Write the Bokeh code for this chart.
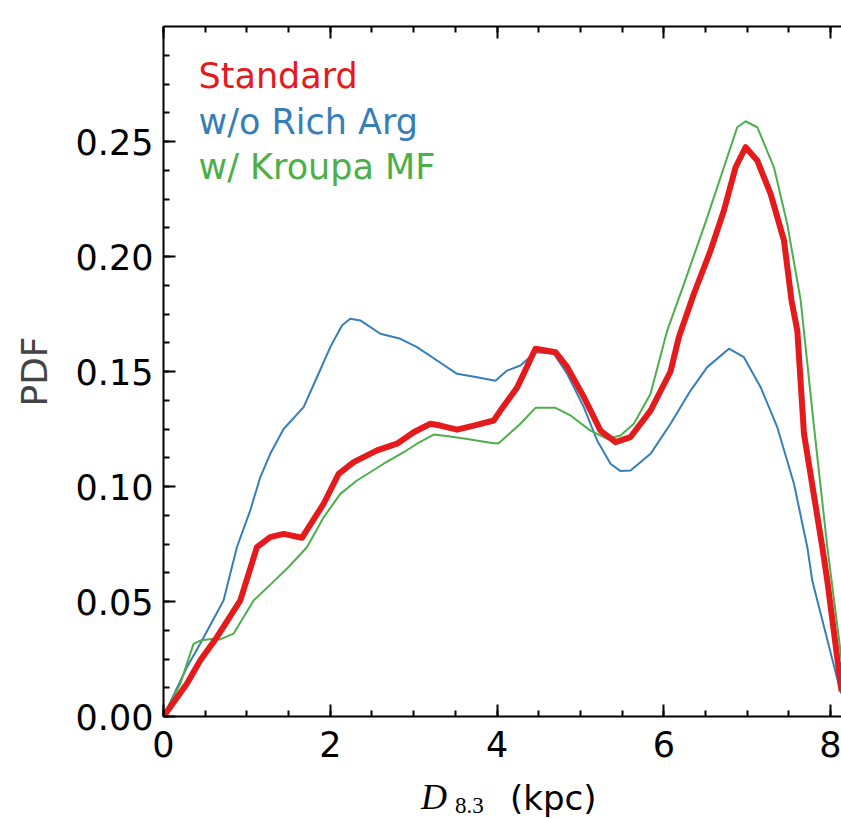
from bokeh.plotting import figure
from bokeh.models import Range1d, LinearAxis, SingleIntervalTicker, NumeralTickFormatter, Label, Div
from bokeh.layouts import column
from bokeh.embed import file_html
from bokeh.resources import INLINE

# ---- data ----
std_x = [0, 0.28, 0.44, 0.64, 0.92, 1.12, 1.28, 1.44, 1.66, 1.92, 2.10, 2.28, 2.56, 2.80, 3.00,
         3.20, 3.32, 3.52, 3.72, 3.96, 4.04, 4.24, 4.46, 4.70, 4.84, 5.04, 5.24, 5.42, 5.60, 5.84,
         6.08, 6.18, 6.36, 6.56, 6.72, 6.86, 6.98, 7.12, 7.28, 7.44, 7.53, 7.60, 7.68, 7.90, 7.96,
         8.12, 8.13]
std_y = [0, 0.0142, 0.0243, 0.0345, 0.0504, 0.0736, 0.078, 0.0794, 0.0777, 0.0925, 0.1055, 0.1106,
         0.1157, 0.1186, 0.1236, 0.1273, 0.1265, 0.1247, 0.1265, 0.1287, 0.133, 0.143, 0.1599, 0.1584,
         0.152, 0.1389, 0.1243, 0.1193, 0.1215, 0.133, 0.150, 0.165, 0.1838, 0.2026, 0.22, 0.2388,
         0.2475, 0.2417, 0.2272, 0.207, 0.181, 0.1678, 0.1229, 0.0736, 0.059, 0.014, 0.011]

rich_x = [0, 0.28, 0.44, 0.72, 0.88, 1.04, 1.16, 1.28, 1.44, 1.68, 1.84, 2.00, 2.14, 2.24, 2.36,
          2.60, 2.84, 3.04, 3.28, 3.52, 3.76, 3.98, 4.12, 4.28, 4.46, 4.68, 4.84, 5.04, 5.20, 5.36,
          5.48, 5.60, 5.84, 6.08, 6.32, 6.52, 6.78, 6.96, 7.16, 7.36, 7.56, 7.72, 7.78, 7.84, 8.12, 8.13]
rich_y = [0, 0.0214, 0.0316, 0.0504, 0.0736, 0.0896, 0.104, 0.1142, 0.125, 0.1345, 0.1475, 0.1606,
          0.170, 0.1729, 0.1722, 0.1664, 0.1642, 0.1606, 0.1548, 0.149, 0.1475, 0.146, 0.1504, 0.1526,
          0.1584, 0.1577, 0.149, 0.1345, 0.12, 0.1099, 0.1067, 0.107, 0.1142, 0.1273, 0.1417, 0.1519,
          0.1599, 0.1562, 0.1432, 0.1258, 0.1012, 0.0736, 0.059, 0.0504, 0.0106, 0.010]

krp_x = [0, 0.2, 0.36, 0.44, 0.60, 0.68, 0.84, 1.08, 1.3, 1.5, 1.72, 1.92, 2.12, 2.32, 2.64, 2.88,
         3.04, 3.24, 3.44, 3.64, 3.96, 4.02, 4.28, 4.46, 4.70, 4.88, 5.12, 5.32, 5.48, 5.64, 5.84,
         6.04, 6.24, 6.52, 6.72, 6.88, 6.98, 7.12, 7.32, 7.48, 7.64, 7.80, 7.96, 8.13]
krp_y = [0, 0.0142, 0.0316, 0.033, 0.0338, 0.0335, 0.036, 0.0504, 0.058, 0.065, 0.0736, 0.0866,
         0.0968, 0.1026, 0.1099, 0.1149, 0.1186, 0.1226, 0.1217, 0.1207, 0.1188, 0.1188, 0.1273,
         0.1342, 0.1342, 0.1309, 0.1243, 0.1207, 0.1222, 0.1273, 0.1403, 0.1678, 0.188, 0.217,
         0.2388, 0.2562, 0.2588, 0.2562, 0.2388, 0.214, 0.181, 0.126, 0.0736, 0.025]

series_names = ["Standard", "w/o Rich Arg", "w/ Kroupa MF"]
series_colors = ["#e41a1c", "#377eb8", "#4daf4a"]
x_ticks_interval = 2
y_ticks_interval = 0.05
x_top_ticks = [0, 2, 4, 6, 8]

SANS = "DejaVu Sans"

p = figure(width=841, height=765, output_backend="svg", toolbar_location=None,
           x_range=Range1d(0, 8.13), y_range=Range1d(0, 0.30),
           min_border_left=163, min_border_top=26, min_border_bottom=49, min_border_right=0,
           y_axis_label="PDF", margin=(0, 0, 0, 0))
p.outline_line_color = None
p.grid.visible = False
p.background_fill_color = "white"
p.border_fill_color = "white"

# curves (thin ones first, standard on top)
p.line(rich_x, rich_y, line_color=series_colors[1], line_width=2)
p.line(krp_x, krp_y, line_color=series_colors[2], line_width=2)
p.line(std_x, std_y, line_color=series_colors[0], line_width=6, line_join="round")

def style_axis(ax, ticker):
    ax.ticker = ticker
    ax.axis_line_width = 2
    ax.axis_line_color = "black"
    ax.major_tick_line_width = 2
    ax.minor_tick_line_width = 2
    ax.major_tick_in = 12
    ax.major_tick_out = 0
    ax.minor_tick_in = 6
    ax.minor_tick_out = 0
    ax.major_label_text_font = SANS
    ax.major_label_text_font_size = "35px"
    ax.major_label_text_color = "black"

xt = SingleIntervalTicker(interval=x_ticks_interval, num_minor_ticks=4)
yt = SingleIntervalTicker(interval=y_ticks_interval, num_minor_ticks=4)

style_axis(p.xaxis[0], xt)
p.xaxis[0].major_label_standoff = 14
style_axis(p.yaxis[0], yt)
p.yaxis[0].formatter = NumeralTickFormatter(format="0.00")
p.yaxis[0].major_label_standoff = 10
p.yaxis[0].axis_label_text_font = SANS
p.yaxis[0].axis_label_text_font_size = "36px"
p.yaxis[0].axis_label_text_font_style = "normal"
p.yaxis[0].axis_label_standoff = 18

top = LinearAxis()
style_axis(top, SingleIntervalTicker(interval=x_ticks_interval, num_minor_ticks=4))
top.major_label_overrides = {t: "" for t in x_top_ticks}
top.major_label_standoff = 0
p.add_layout(top, "above")

# legend text
leg_y = [0.2785, 0.2585, 0.239]
for name, col, ly in zip(series_names, series_colors, leg_y):
    p.add_layout(Label(x=0.42, y=ly, text=name, text_color=col, text_font=SANS,
                       text_font_size="35px", text_baseline="alphabetic", text_align="left"))

# x-axis label: D_{8.3} (kpc), as HTML below the figure
xlabel_html = (
    '<div style="position:relative;width:841px;height:54px;overflow:visible;">'
    '<span style="position:absolute;left:421px;top:14px;line-height:1;'
    'font-family:\'Liberation Serif\';font-style:italic;font-size:36px;color:black;">D</span>'
    '<span style="position:absolute;left:455px;top:29px;line-height:1;'
    'font-family:\'Liberation Serif\';font-size:23px;color:black;">8.3</span>'
    '<span style="position:absolute;left:510px;top:16px;line-height:1;'
    'font-family:\'DejaVu Sans\';font-size:34px;color:black;">(kpc)</span>'
    '</div>'
)
xlabel = Div(text=xlabel_html, width=841, height=54, margin=(0, 0, 0, 0))

layout = column(p, xlabel, spacing=0, margin=(0, 0, 0, 0))

open("out.html", "w").write(file_html(layout, INLINE))
